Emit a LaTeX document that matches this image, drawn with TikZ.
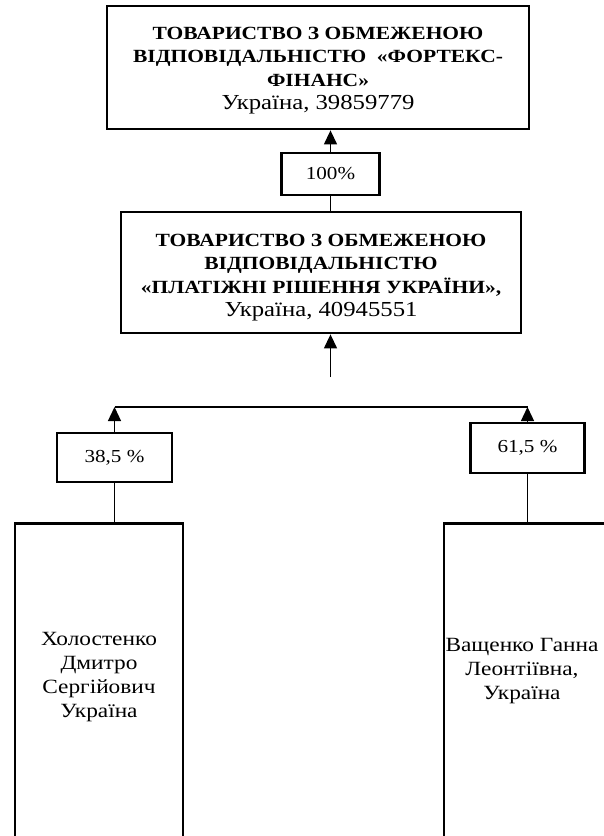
\documentclass[tikz,border=0pt]{standalone}
\usepackage{fontspec}
\setmainfont[FakeStretch=1.155]{Liberation Serif}
\usetikzlibrary{arrows.meta}

\newcommand\firmname[1]{{\fontsize{18.6}{23.5}\selectfont\bfseries #1}}

\begin{document}
\begin{tikzpicture}[x=1pt,y=-1pt,
  firm/.style={draw,line width=2.8pt,inner sep=0pt},
  firmtext/.style={align=center,inner sep=0pt,font=\fontsize{21.4}{23.5}\selectfont},
  share/.style={draw,line width=2.8pt,inner sep=0pt,
    font=\fontsize{18.3}{22}\selectfont},
  owner/.style={draw,line width=2.8pt,inner sep=0pt,minimum width=168pt,minimum height=340pt},
  ownertext/.style={align=center,font=\fontsize{20.2}{24}\selectfont},
  link/.style={line width=1.3pt},
  up/.style={link,-{Triangle[length=14pt,width=13pt]}}]
  \useasboundingbox (0,0) rectangle (604,836);
  \clip (0,0) rectangle (604,836);

  \node[firm,minimum width=422pt,minimum height=123pt] (fortex) at (318,67.5) {};
  \node[firmtext] (fortextext) at ([yshift=-3pt]fortex.center)
    {\firmname{ТОВАРИСТВО З ОБМЕЖЕНОЮ}\\
     \firmname{ВІДПОВІДАЛЬНІСТЮ\ \ «ФОРТЕКС-}\\
     \firmname{ФІНАНС»}\\
     Україна, 39859779};
  \node[share,minimum width=98pt,minimum height=42pt] (pct100) at (330.5,174) {100\%};
  \node[firm,minimum width=400pt,minimum height=121pt] (platizhni) at (321,272.5) {};
  \node[firmtext] (platizhnitext) at ([yshift=-5pt]platizhni.center)
    {\firmname{ТОВАРИСТВО З ОБМЕЖЕНОЮ}\\
     \firmname{ВІДПОВІДАЛЬНІСТЮ}\\
     \firmname{«ПЛАТІЖНІ РІШЕННЯ УКРАЇНИ»,}\\
     Україна, 40945551};
  \coordinate (feed) at (330.5,377);

  \node[share,minimum width=115pt,minimum height=49pt] (share385) at (114.5,457.5) {38,5 \%};
  \node[share,minimum width=114pt,minimum height=50pt] (share615) at (527.5,448) {61,5 \%};

  \node[owner,anchor=north] (holostenko) at (99,522) {};
  \node[owner,anchor=north] (vashchenko) at (528,522) {};
  \node[ownertext] (holostenkotext) at (99,677)
    {Холостенко\\Дмитро\\Сергійович\\Україна};
  \node[ownertext] (vashchenkotext) at (522,671)
    {Ващенко Ганна\\Леонтіївна,\\Україна};

  \coordinate (joinL) at (share385.north |- 0,407);
  \coordinate (joinR) at (share615.north |- 0,407);

  \draw[up] (pct100.north) -- (pct100.north |- fortex.south);
  \draw[link] (pct100.south) -- (pct100.south |- platizhni.north);
  \draw[up] (feed) -- (feed |- platizhni.south);
  \draw[link] (joinL) -- (joinR);
  \draw[up] (share385.north) -- (joinL);
  \draw[up] (share615.north) -- (joinR);
  \draw[link] (share385.south) -- (share385.south |- holostenko.north);
  \draw[link] (share615.south) -- (share615.south |- vashchenko.north);
\end{tikzpicture}
\end{document}
